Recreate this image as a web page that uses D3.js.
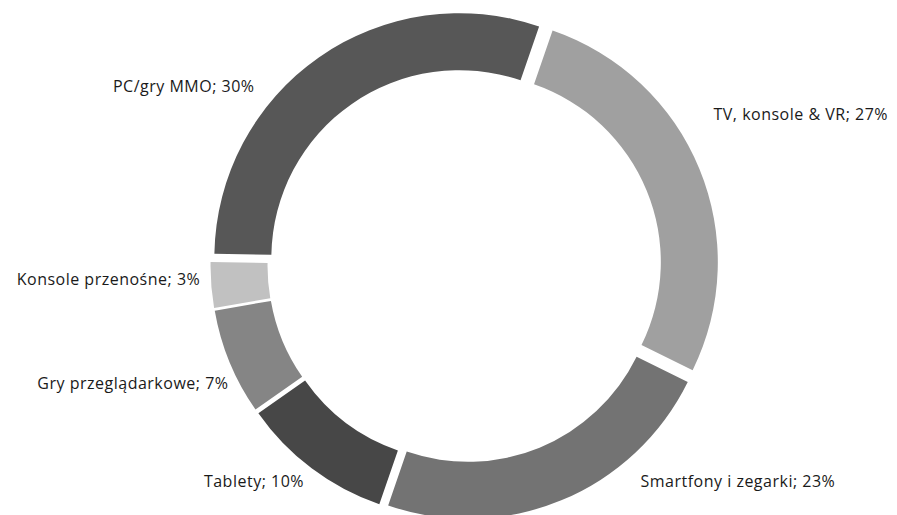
<!DOCTYPE html>
<html>
<head>
<meta charset="utf-8">
<script src="https://cdn.jsdelivr.net/npm/d3@7"></script>
<style>
  body { margin: 0; background: #fff; }
  svg text { font-family: "Open Sans", Lato, sans-serif; font-size: 16px; letter-spacing: 0.5px; fill: #1a1a1a; }
</style>
</head>
<body>
<div id="chart"></div>
<script>
// data
const categories = ["TV, konsole & VR", "Smartfony i zegarki", "Tablety",
  "Gry przeglądarkowe", "Konsole przenośne", "PC/gry MMO"];
const shares = [27, 23, 10, 7, 3, 30];
const colors = ["#a0a0a0", "#737373", "#474747", "#858585", "#c1c1c1", "#575757"];

// label nudges relative to the outer label arc
const labelNudge = [[4, -50], [75, -29], [-1, 4], [9, 17], [0, -6], [-58, 38]];

const width = 897, height = 515;
const cx = 464.5, cy = 265.5;
const outerR = 245, innerR = 188;
const explode = 9;
const startAngle = 19 * Math.PI / 180;

const svg = d3.select("#chart")
  .append("svg")
  .attr("width", width)
  .attr("height", height);

const g = svg.append("g")
  .attr("transform", `translate(${cx}, ${cy})`);

const pie = d3.pie()
  .value((d, i) => shares[i])
  .sort(null)
  .startAngle(startAngle)
  .endAngle(startAngle + 2 * Math.PI);

const arc = d3.arc()
  .innerRadius(innerR)
  .outerRadius(outerR);

const labelArc = d3.arc()
  .innerRadius(outerR + 20)
  .outerRadius(outerR + 20);

const arcs = pie(categories);

g.selectAll("path")
  .data(arcs)
  .enter().append("path")
  .attr("d", arc)
  .attr("fill", (d, i) => colors[i])
  .attr("transform", d => {
    const a = (d.startAngle + d.endAngle) / 2;
    return `translate(${explode * Math.sin(a)}, ${-explode * Math.cos(a)})`;
  });

g.selectAll("text")
  .data(arcs)
  .enter().append("text")
  .attr("x", (d, i) => labelArc.centroid(d)[0] + labelNudge[i][0])
  .attr("y", (d, i) => labelArc.centroid(d)[1] + labelNudge[i][1])
  .attr("dy", "0.35em")
  .attr("text-anchor", d => {
    const a = (d.startAngle + d.endAngle) / 2;
    return Math.sin(a) > 0 ? "start" : "end";
  })
  .text((d, i) => `${categories[i]}; ${shares[i]}%`);
</script>
</body>
</html>
